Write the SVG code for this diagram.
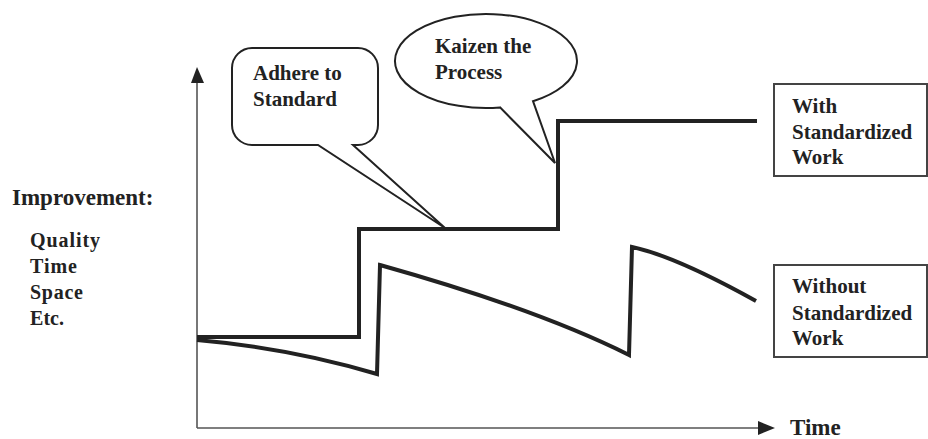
<svg xmlns="http://www.w3.org/2000/svg" width="928" height="439" viewBox="0 0 928 439">
  <style>
    text { font-family: "Liberation Serif", "Times New Roman", "DejaVu Serif", serif; font-weight: bold; fill: #222; }
    .lbl { font-size: 21px; }
    .big { font-size: 23px; }
    .list { font-size: 20px; }
    .axis { stroke: #555; stroke-width: 1.6; fill: none; }
    .arrowhead { fill: #222; }
    .trend { stroke: #222; stroke-width: 4; fill: none; stroke-linejoin: miter; }
    .callout { stroke: #222; stroke-width: 2; fill: #fff; stroke-linejoin: miter; }
    .box { stroke: #444; stroke-width: 2; fill: #fff; }
  </style>

  <rect width="928" height="439" fill="#fff"/>

  <!-- axes -->
  <g id="axes">
    <line class="axis" x1="197" y1="80" x2="197" y2="428"/>
    <polygon class="arrowhead" points="197,67 191,83 204,83"/>
    <line class="axis" x1="197" y1="428" x2="760" y2="428"/>
    <polygon class="arrowhead" points="775,428 758,421 758,435"/>
    <text class="big" x="790" y="435" font-size="22">Time</text>
  </g>

  <!-- y-axis caption -->
  <g id="y-label">
    <text class="big" x="12" y="205">Improvement:</text>
    <text class="list" x="30" y="247" textLength="70">Quality</text>
    <text class="list" x="30" y="273" textLength="47">Time</text>
    <text class="list" x="30" y="299" textLength="53">Space</text>
    <text class="list" x="30" y="325" textLength="34">Etc.</text>
  </g>

  <!-- trend lines -->
  <g id="connectors">
    <path id="with-standard" class="trend" d="M197,337 H359 V229 H558 V121 H757"/>
    <path id="without-standard" class="trend" d="M197,340 Q290,348 377,374 L380,265 Q537,309 629,355 L632,247 Q675,256 756,301"/>
  </g>

  <!-- callout: adhere to standard -->
  <g id="adhere">
    <path class="callout" d="M252,48 H358 A20,20 0 0 1 378,68 V125 A20,20 0 0 1 358,145 H353 L445,228 L318,145 H252 A20,20 0 0 1 232,125 V68 A20,20 0 0 1 252,48 Z"/>
    <text class="lbl" x="253" y="80" font-size="22">Adhere to</text>
    <text class="lbl" x="253" y="106" font-size="22">Standard</text>
  </g>

  <!-- callout: kaizen the process -->
  <g id="kaizen">
    <path class="callout" d="M500,107.4 A91,47 0 1 1 533,101.2 L555,163 Z"/>
    <text class="lbl" x="435" y="53">Kaizen the</text>
    <text class="lbl" x="435" y="79">Process</text>
  </g>

  <!-- legend boxes -->
  <g id="with-box">
    <rect class="box" x="774" y="84" width="153" height="92"/>
    <text class="lbl" x="792" y="113">With</text>
    <text class="lbl" x="792" y="139">Standardized</text>
    <text class="lbl" x="792" y="164">Work</text>
  </g>

  <g id="without-box">
    <rect class="box" x="774" y="265" width="153" height="92"/>
    <text class="lbl" x="792" y="293">Without</text>
    <text class="lbl" x="792" y="320">Standardized</text>
    <text class="lbl" x="792" y="345">Work</text>
  </g>
</svg>
